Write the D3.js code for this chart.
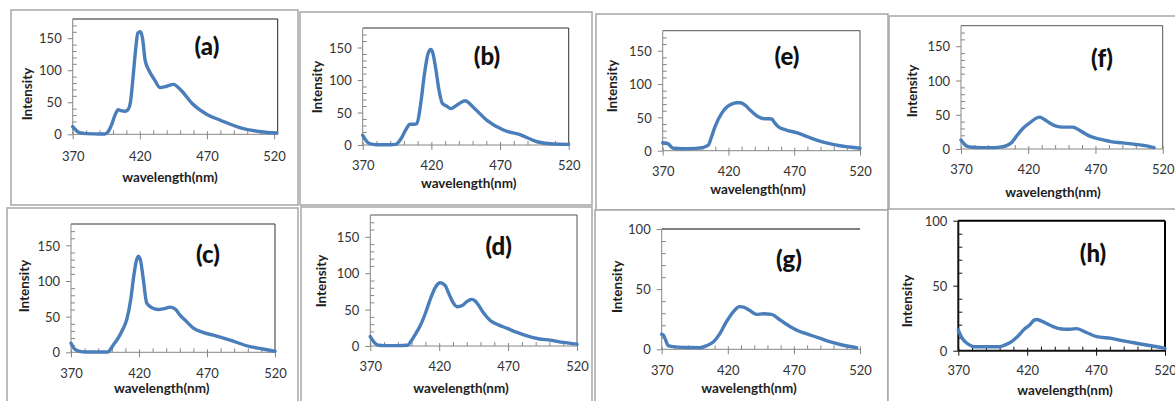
<!DOCTYPE html>
<html><head><meta charset="utf-8">
<script src="https://cdn.jsdelivr.net/npm/d3@7"></script>
<style>html,body{margin:0;padding:0;background:#fff;}svg{display:block;}</style>
</head><body>
<svg id="chart" width="1175" height="401"></svg>
<script>
// ---- data ----
const xTicks = [370, 420, 470, 520];
const yTicks180 = [0, 50, 100, 150];
const yTicks100 = [0, 50, 100];
const panelTags = ["(a)", "(b)", "(c)", "(d)", "(e)", "(f)", "(g)", "(h)"];
const xAxisTitle = "wavelength(nm)";
const yAxisTitle = "Intensity";

const wlA = [370,372,375,380,390,394,397,399,401.5,404,406,409,411,413,415,417,418.5,420.5,422,424,427.5,431,435,440,445,451,459,470,480,495,510,522];
const intA = [12,7,2.5,1,0.5,0.5,6,15,30,38.5,37,36,38,50,90,135,158,160,150,115,97,85,73,75,78,68,48,31,22,10,4,2];

const wlB = [370,372,375,380,390,394,398,401,404.5,407,409.5,412,415,417.5,419.5,421,423,425.5,428,431,434,439,444.5,451,460.5,472.5,485,497,509,520];
const intB = [15,8,2,0.5,0.5,1,10,22,32,32,33,60,110,140,147,142,120,85,64,60,56,62,68,57,38,23,15.5,5,1.5,1];

const wlC = [370,372,375,380,390,397,401,405,408,411,414,416,418,419.5,421,423,425.7,430,434,438,443,447,450,455,460,467,474.6,487,501.6,510,520];
const intC = [12.7,6,2,0.5,0.5,0.5,10,21,32,46,75,105,128,135,130,105,69,62,60,61,63.4,60,52.5,43,34,28,24,17,8,5,1.5];

const wlD = [370,372,376,380,390,397,400,403,406,410,413.5,417,420.8,424.4,427,430,433,437,440,443.8,446,448.7,452,457,463,469,476,483.7,492,500.6,510,520];
const intD = [13,7,1,0.5,0.5,1,8,17,27,45,64,80,87,83,72,60,54,56,61,64,62,55.6,46,35,29,24.5,19,14,10,8,5,2.5];

const wlE = [370,372,374.3,378,385,395,401,404.7,407,409.8,414.8,418,421,426,429,432.6,437,442.7,447,450,452.9,455,457.9,464,471.9,480,487,496,504.8,512,520];
const intE = [12,11.5,10,3.6,3,3.5,5,8.5,20,36,56,64,68.5,72,72,68.5,60,51,48,48,47.5,42,36,31,27,21,16,11,7.5,5.5,3.6];

const wlF = [370,372,374.2,378,385,395,400,404,407.5,411,416,421,425,428.5,432,436,439.6,445,450,453,460,466.7,474,481.5,490,498.8,507,513.6];
const intF = [13,8,4.4,2.5,2,2,3,5,9,18,30,38,44,46.6,43,38,34,32,32,32,25,18,14,10.7,9,7,5,2];

const wlG = [370,371,372.5,375,380,390,399,404,409,414,419,424,429,432,437,441.8,447,453,460,467,474,482,490,497,505,517.5];
const intG = [12.5,12,9,3,2,1.5,1.4,3,6,13,23,31,35.5,35,32,29,29.5,29,24,19,15,12,9,6.3,4,1.4];

const wlH = [370,372,374.9,378,382,390,400,404,408.7,413,418.4,422,425,427,430,437.8,445,451,456,463,470.4,481,488,495.8,503,510,520];
const intH = [16,11,7,4.5,3,3,3,4.5,7,11,17,20,23.5,24,23,19,16.7,16.5,17,14,10.8,9.5,8,6.4,5,3.8,1.8];

// ---- layout (positions only) ----
const layout = [
  {tag:0, wl:wlA, y:intA, frame:[11,10,298,205], plot:[72.7,19,277.7,134.3], xmax:522.7, ymax:180, yt:yTicks180, tly:156, xl:[170,177], yl:[27,94], tg:[207,45], top:"#222", right:"#222", box:1},
  {tag:1, wl:wlB, y:intB, frame:[300,12,592,205], plot:[362.7,28,568.7,145], xmax:520, ymax:180, yt:yTicks180, tly:165, xl:[468.7,183.3], yl:[317,87], tg:[487,55], top:"#333", right:"#333", box:1},
  {tag:2, wl:wlC, y:intC, frame:[7,208,298,405], plot:[71,224,275,352.3], xmax:520, ymax:180, yt:yTicks180, tly:373.3, xl:[161.7,387.7], yl:[24.3,286], tg:[208,253], top:"#333", right:"#333", box:1},
  {tag:3, wl:wlD, y:intD, frame:[301,207,592,405], plot:[370.3,215,577,346], xmax:520, ymax:180, yt:yTicks180, tly:366.7, xl:[461,388.3], yl:[321,281], tg:[498.7,245], top:"#555", right:"#555", box:1},
  {tag:4, wl:wlE, y:intE, frame:[596,14,888,210], plot:[662.7,30.7,860,150.7], xmax:520, ymax:180, yt:yTicks180, tly:171, xl:[758,189], yl:[611.7,86], tg:[787,55], top:"#555", right:"#555", box:1},
  {tag:5, wl:wlF, y:intF, frame:[889,16,1185,210], plot:[961,25.7,1162.7,149], xmax:520, ymax:180, yt:yTicks180, tly:169.3, xl:[1053,192.3], yl:[911.7,91], tg:[1102,57], top:"#555", right:"#555", box:1},
  {tag:6, wl:wlG, y:intG, frame:[595,210,888,405], plot:[661.7,229,860,349.3], xmax:520, ymax:100, yt:yTicks100, tly:370, xl:[749,388.3], yl:[617.3,286.7], tg:[789,258], top:"#000", right:null, box:1},
  {tag:7, wl:wlH, y:intH, frame:[888,209,1185,405], plot:[958.3,220.7,1165,350.7], xmax:520, ymax:100, yt:yTicks100, tly:370.7, xl:[1065,390], yl:[906.7,301], tg:[1093,252.7], top:"#000", right:"#000", box:2, black:true}
];

const svg = d3.select("#chart");
const FONT = "Lato, 'Open Sans', sans-serif";
const LINE = "#4A7EBB";

layout.forEach(p => {
  const g = svg.append("g");
  const [fx0, fy0, fx1, fy1] = p.frame;
  g.append("rect").attr("x", fx0).attr("y", fy0).attr("width", fx1 - fx0).attr("height", fy1 - fy0)
    .attr("fill", "#fff").attr("stroke", "#a6a6a6").attr("stroke-width", 1.5);

  const [px0, py0, px1, py1] = p.plot;
  const x = d3.scaleLinear().domain([370, p.xmax]).range([px0, px1]);
  const y = d3.scaleLinear().domain([0, p.ymax]).range([py1, py0]);
  const axisCol = p.black ? "#111" : "#868686";
  const sw = p.box;

  if (p.top) g.append("line").attr("x1", px0).attr("x2", px1).attr("y1", py0).attr("y2", py0).attr("stroke", p.top).attr("stroke-width", sw);
  if (p.right) g.append("line").attr("x1", px1).attr("x2", px1).attr("y1", py0).attr("y2", py1).attr("stroke", p.right).attr("stroke-width", sw);

  const yMinor = d3.range(10, p.ymax, 10).filter(v => v % 50 !== 0);
  g.append("g").attr("transform", `translate(${px0},0)`)
    .call(d3.axisRight(y).tickValues(yMinor).tickSize(4).tickFormat(""))
    .call(a => { a.select(".domain").remove(); a.selectAll("line").attr("stroke", axisCol); });
  const xMinor = d3.range(380, 520, 10).filter(v => (v - 370) % 50 !== 0);
  g.append("g").attr("transform", `translate(0,${py1})`)
    .call(d3.axisTop(x).tickValues(xMinor).tickSize(4).tickFormat(""))
    .call(a => { a.select(".domain").remove(); a.selectAll("line").attr("stroke", axisCol); });

  const ya = g.append("g").attr("transform", `translate(${px0},0)`)
    .call(d3.axisLeft(y).tickValues(p.yt).tickSize(5).tickSizeOuter(0).tickPadding(6));
  ya.select(".domain").attr("stroke", axisCol).attr("stroke-width", sw).attr("d", `M0,${py1}V${py0}`);
  ya.selectAll(".tick line").attr("stroke", axisCol);
  ya.selectAll("text").attr("font-family", FONT).attr("font-size", 13).attr("fill", "#333").attr("dy", "0.36em");

  const xa = g.append("g").attr("transform", `translate(0,${py1})`)
    .call(d3.axisBottom(x).tickValues(xTicks).tickSize(5).tickSizeOuter(0).tickFormat(d3.format("d")));
  xa.select(".domain").attr("stroke", axisCol).attr("stroke-width", sw).attr("d", `M${px0},0H${px1}`);
  xa.selectAll(".tick line").attr("stroke", axisCol).attr("y1", -3);
  xa.selectAll("text").attr("font-family", FONT).attr("font-size", 13).attr("fill", "#333")
    .attr("y", p.tly - py1).attr("dy", "0.36em");

  const line = d3.line().x(d => x(d[0])).y(d => y(d[1])).curve(d3.curveMonotoneX);
  g.append("path").datum(p.wl.map((w, i) => [w, p.y[i]]))
    .attr("d", line).attr("fill", "none").attr("stroke", LINE).attr("stroke-width", 3.4)
    .attr("stroke-linejoin", "round").attr("stroke-linecap", "round");

  g.append("text").attr("x", p.xl[0]).attr("y", p.xl[1]).attr("text-anchor", "middle").attr("dominant-baseline", "central")
    .attr("font-family", FONT).attr("font-weight", "bold").attr("font-size", 13.5).attr("fill", "#1e1e1e").text(xAxisTitle);
  g.append("text").attr("transform", `translate(${p.yl[0]},${p.yl[1]}) rotate(-90)`).attr("text-anchor", "middle").attr("dominant-baseline", "central")
    .attr("font-family", FONT).attr("font-weight", "bold").attr("font-size", 13.5).attr("fill", "#1e1e1e").text(yAxisTitle);
  g.append("text").attr("x", p.tg[0]).attr("y", p.tg[1]).attr("text-anchor", "middle").attr("dominant-baseline", "central")
    .attr("font-family", FONT).attr("font-weight", "900").attr("font-size", 24).attr("fill", "#111").text(panelTags[p.tag]);
});
</script>
</body></html>
